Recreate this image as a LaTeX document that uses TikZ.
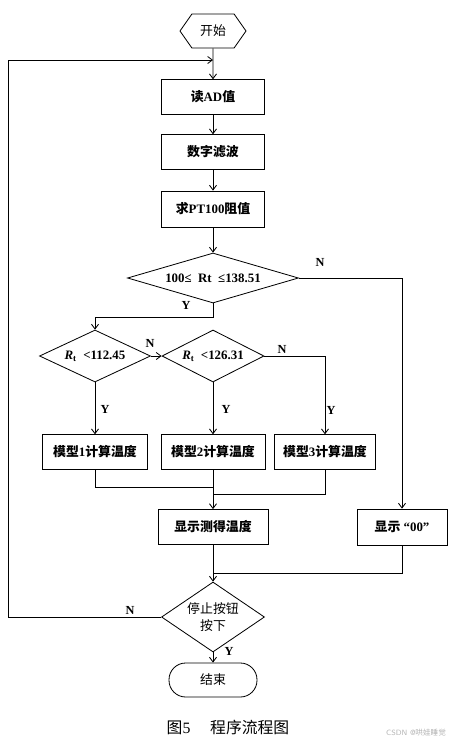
\documentclass[tikz,border=0pt]{standalone}
\usepackage{fontspec}
\setmainfont{Liberation Serif}
\newfontfamily\cjk{Noto Sans CJK SC}
\usetikzlibrary{shapes.geometric,shapes.symbols,arrows.meta}

\tikzset{
  flowbox/.style={draw, minimum width=3.1cm, minimum height=1.04cm, inner sep=1pt, font=\fontsize{11}{13}\selectfont\bfseries},
  decide/.style={draw, diamond, inner sep=0pt, font=\fontsize{11}{13}\selectfont\bfseries},
  lbl/.style={font=\fontsize{10.5}{12}\selectfont\bfseries},
  arr/.style={-{Straight Barb[length=4pt,width=6pt]}},
}

\begin{document}
\begin{tikzpicture}[x=0.03cm, y=-0.03cm, line width=0.7pt]
  \useasboundingbox (0,0) rectangle (457,745);

  % start and end
  \node[draw, signal, signal to=east and west, signal pointer angle=110, minimum width=1.98cm, minimum height=1.02cm, inner sep=0pt, font=\fontsize{11}{13}\selectfont] (start) at (213,31) {\cjk 开始};
  \node[draw, rectangle, rounded corners=0.5cm, minimum width=2.64cm, minimum height=1.02cm, font=\fontsize{11}{13}\selectfont] (stopend) at (213,680) {\cjk 结束};

  % main column
  \node[flowbox] (readad) at (213,97) {{\cjk 读}AD{\cjk 值}};
  \node[flowbox] (filter) at (213,152) {\cjk 数字滤波};
  \node[flowbox, minimum height=1.08cm] (resist) at (213,209) {{\cjk 求}PT100{\cjk 阻值}};

  % range check
  \node[decide, minimum width=5.13cm, minimum height=1.5cm, aspect=3.4] (range) at (213,278) {100≤\ \ Rt\ \ ≤138.51};
  \node[decide, minimum width=3.33cm, minimum height=1.56cm, aspect=2.1] (low) at (95,356) {\textit{R}\textsubscript{t}\ \ <112.45};
  \node[decide, minimum width=3.06cm, minimum height=1.56cm, aspect=2] (mid) at (213,356) {\textit{R}\textsubscript{t}\ \ <126.31};

  % three models
  \node[flowbox, minimum width=3.15cm] (model1) at (95,452) {{\cjk 模型}1{\cjk 计算温度}};
  \node[flowbox, minimum width=3.12cm] (model2) at (213,452) {{\cjk 模型}2{\cjk 计算温度}};
  \node[flowbox, minimum width=3.03cm] (model3) at (325,452) {{\cjk 模型}3{\cjk 计算温度}};

  % display
  \node[flowbox, minimum width=3.3cm, minimum height=1.05cm] (showt) at (213,527) {\cjk 显示测得温度};
  \node[flowbox, minimum width=2.7cm, minimum height=1.08cm] (zero) at (402,527) {{\cjk 显示}\ “00”};

  % stop button
  \node[decide, minimum width=3.09cm, minimum height=2.1cm, aspect=1.5, align=center, font=\fontsize{11}{15}\selectfont] (button) at (213,617) {\cjk 停止按钮\\\cjk 按下};

  \coordinate (loopin) at (213,60);
  \coordinate (loopleft) at (8,60);
  \coordinate (join1) at (213,487);
  \coordinate (join3) at (213,494);
  \coordinate (merge) at (213,573);

  % connectors
  \draw[arr] (start) -- (readad);
  \draw[arr] (readad) -- (filter);
  \draw[arr] (filter) -- (resist);
  \draw[arr] (resist) -- (range);
  \draw[arr] (range.east) -| (zero.north);
  \draw[arr] (range.south) -- ++(0,14) -| (low.north);
  \draw[arr] (low.east) -- (mid.west);
  \draw[arr] (mid.east) -| (model3.north);
  \draw[arr] (low.south) -- (model1.north);
  \draw[arr] (mid.south) -- (model2.north);
  \draw (model1.south) |- (join1);
  \draw (model3.south) |- (join3);
  \draw[arr] (model2.south) -- (showt.north);
  \draw (zero.south) |- (merge);
  \draw[arr] (showt.south) -- (button.north);
  \draw[arr] (button.south) -- (stopend.north);
  \draw[arr] (button.west) -| (loopleft) -- (loopin);

  % Y / N labels
  \node[lbl] at (320,262) {N};
  \node[lbl] at (186,305) {Y};
  \node[lbl] at (150,343) {N};
  \node[lbl] at (282,349) {N};
  \node[lbl] at (105,409) {Y};
  \node[lbl] at (226,409) {Y};
  \node[lbl] at (331,410) {Y};
  \node[lbl] at (130,610) {N};
  \node[lbl] at (229,651) {Y};

  % caption
  \node[font=\fontsize{13.5}{15}\selectfont] (caption) at (228,727) {{\cjk 图}5\quad\ {\cjk 程序流程图}};
  \node[font=\fontsize{6.5}{8}\selectfont\sffamily, text=gray!60] (mark) at (416,733) {CSDN @{\cjk 哄娃睡觉}};
\end{tikzpicture}
\end{document}
